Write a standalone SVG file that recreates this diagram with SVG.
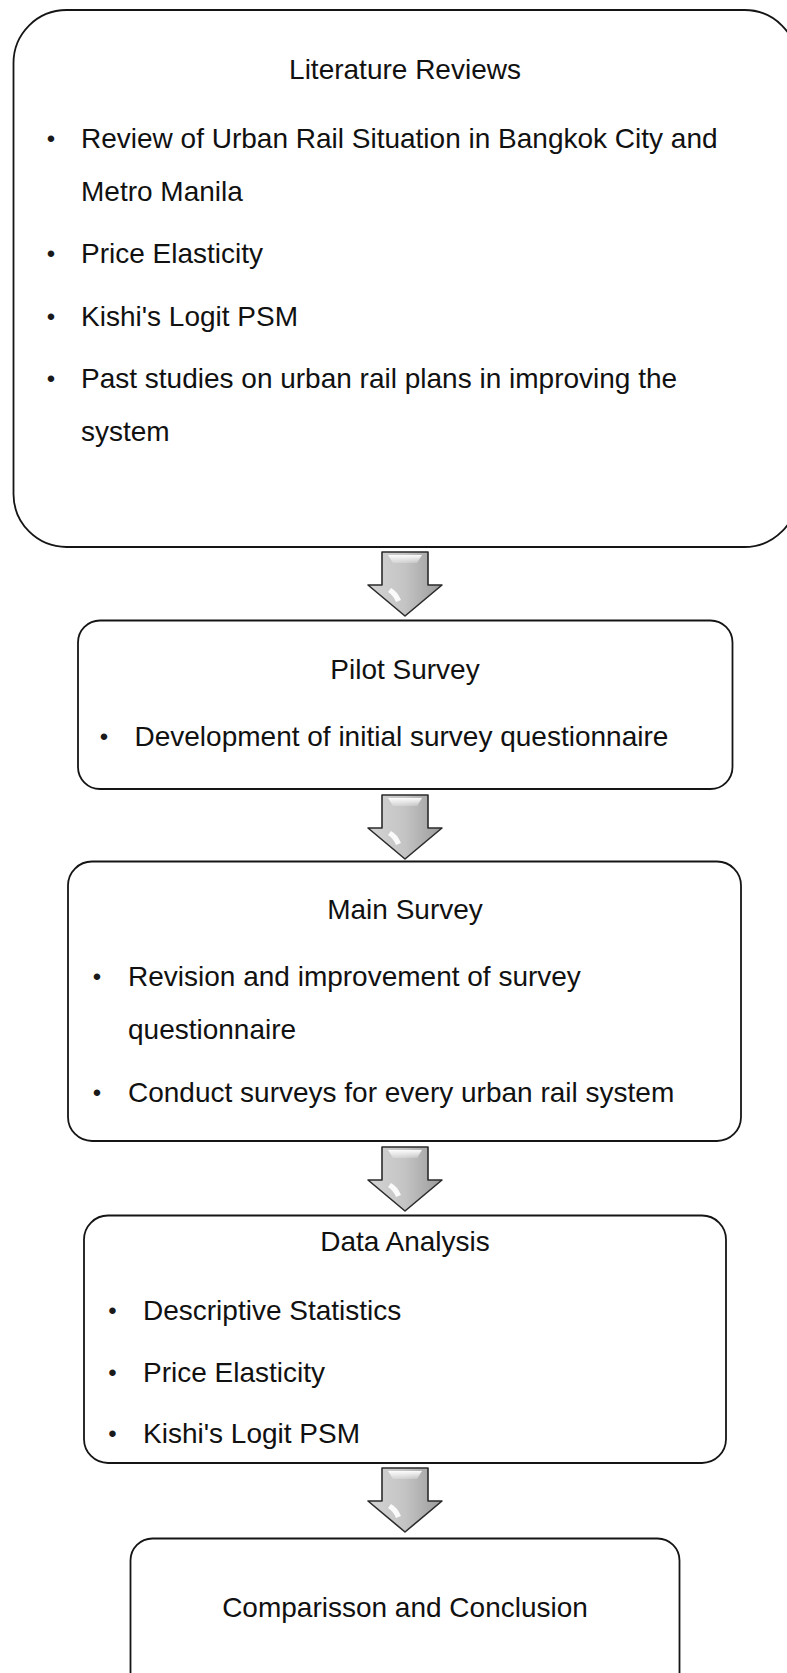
<svg xmlns="http://www.w3.org/2000/svg" xmlns:xlink="http://www.w3.org/1999/xlink" width="787" height="1673" viewBox="0 0 787 1673">
  <style>
    .box { fill: #ffffff; stroke: #151515; stroke-width: 1.8; }
    .t { font-family: "Liberation Sans", Arial, Helvetica, sans-serif; font-size: 28px; fill: #111111; }
    .c { text-anchor: middle; }
    .dot { font-family: "Liberation Sans", Arial, Helvetica, sans-serif; font-size: 24px; fill: #1a1a1a; text-anchor: middle; }
    .arrow-body { fill: url(#arrowFill); stroke: #2b2b2b; stroke-width: 1.6; stroke-linejoin: round; }
    .shine { fill: #ffffff; }
  </style>
  <defs>
    <linearGradient id="arrowFill" x1="0" y1="0" x2="1" y2="0">
      <stop offset="0" stop-color="#d4d4d4"/>
      <stop offset="0.5" stop-color="#c4c4c4"/>
      <stop offset="1" stop-color="#9a9a9a"/>
    </linearGradient>
    <linearGradient id="topShine" x1="0" y1="0" x2="0" y2="1">
      <stop offset="0" stop-color="#ffffff" stop-opacity="0.95"/>
      <stop offset="1" stop-color="#ffffff" stop-opacity="0.2"/>
    </linearGradient>
    <!-- block arrow pointing down, drawn with its top centre at the origin -->
    <g id="downArrow">
      <path class="arrow-body" d="M-23,0 H23 V33 H37 L0,64 L-37,33 H-23 Z"/>
      <path fill="url(#topShine)" d="M-17,3 H17 L12,11 H-12 Z"/>
      <path class="shine" opacity="0.9" d="M-14,36 Q-8,39 -4,48 L-9,50 Q-12,43 -17,40 Z"/>
    </g>
  </defs>

  <!-- connectors between the stages -->
  <g id="connectors">
    <use xlink:href="#downArrow" transform="translate(405,552)"/>
    <use xlink:href="#downArrow" transform="translate(405,795)"/>
    <use xlink:href="#downArrow" transform="translate(405,1147)"/>
    <use xlink:href="#downArrow" transform="translate(405,1468)"/>
  </g>

  <g id="literature-reviews">
    <rect class="box" x="13.5" y="10" width="784" height="537" rx="53" ry="53"/>
    <text class="t c" x="405" y="79">Literature Reviews</text>
    <text class="dot" x="51" y="147">•</text>
    <text class="t" x="81" y="148">Review of Urban Rail Situation in Bangkok City and</text>
    <text class="t" x="81" y="200.5">Metro Manila</text>
    <text class="dot" x="51" y="262">•</text>
    <text class="t" x="81" y="263">Price Elasticity</text>
    <text class="dot" x="51" y="324.5">•</text>
    <text class="t" x="81" y="325.5">Kishi's Logit PSM</text>
    <text class="dot" x="51" y="387">•</text>
    <text class="t" x="81" y="388">Past studies on urban rail plans in improving the</text>
    <text class="t" x="81" y="440.5">system</text>
  </g>

  <g id="pilot-survey">
    <rect class="box" x="78" y="620.5" width="654.5" height="168.5" rx="22" ry="22"/>
    <text class="t c" x="405" y="678.5">Pilot Survey</text>
    <text class="dot" x="104" y="745">•</text>
    <text class="t" x="134.5" y="746">Development of initial survey questionnaire</text>
  </g>

  <g id="main-survey">
    <rect class="box" x="68" y="861.5" width="673" height="279.5" rx="24" ry="24"/>
    <text class="t c" x="405" y="918.5">Main Survey</text>
    <text class="dot" x="97" y="985">•</text>
    <text class="t" x="128" y="986">Revision and improvement of survey</text>
    <text class="t" x="128" y="1038.5">questionnaire</text>
    <text class="dot" x="97" y="1100.5">•</text>
    <text class="t" x="128" y="1101.5">Conduct surveys for every urban rail system</text>
  </g>

  <g id="data-analysis">
    <rect class="box" x="84" y="1215.5" width="642" height="247.5" rx="24" ry="24"/>
    <text class="t c" x="405" y="1251">Data Analysis</text>
    <text class="dot" x="112.5" y="1318.5">•</text>
    <text class="t" x="143" y="1319.5">Descriptive Statistics</text>
    <text class="dot" x="112.5" y="1380.5">•</text>
    <text class="t" x="143" y="1381.5">Price Elasticity</text>
    <text class="dot" x="112.5" y="1442">•</text>
    <text class="t" x="143" y="1443">Kishi's Logit PSM</text>
  </g>

  <g id="comparison-conclusion">
    <rect class="box" x="130.5" y="1538.5" width="549" height="160" rx="22" ry="22"/>
    <text class="t c" x="405" y="1617">Comparisson and Conclusion</text>
  </g>
</svg>
